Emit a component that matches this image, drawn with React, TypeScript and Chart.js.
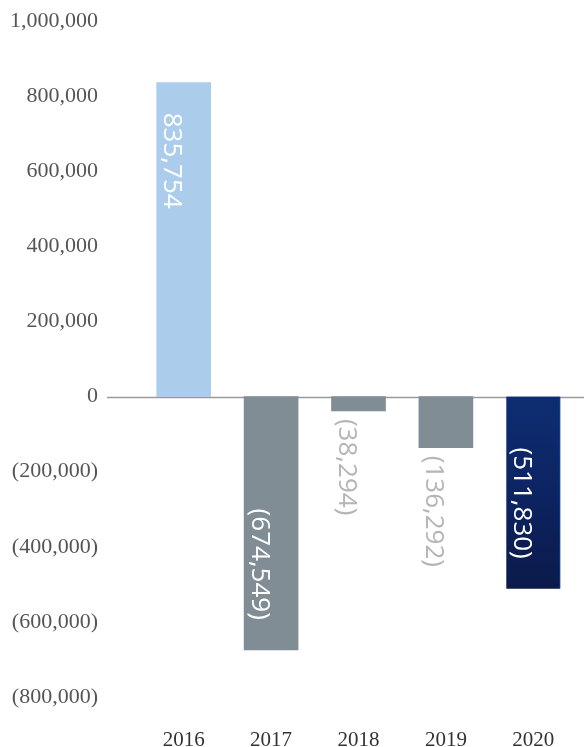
import React, { useEffect, useRef } from "react";
import { Chart, registerables } from "chart.js";

Chart.register(...registerables);

const categories = ["2016", "2017", "2018", "2019", "2020"];
const values = [835754, -674549, -38294, -136292, -511830];
const yMin = -800000;
const yMax = 1000000;
const yStep = 200000;

const fmt = (n: number) =>
  n < 0 ? `(${Math.abs(n).toLocaleString("en-US")})` : n.toLocaleString("en-US");

const zeroLinePlugin = {
  id: "zeroLine",
  beforeDatasetsDraw(chart: any) {
    const ctx = chart.ctx;
    const y0 = Math.round(chart.scales.y.getPixelForValue(0)) + 0.5;
    ctx.save();
    ctx.strokeStyle = "#9a9a9a";
    ctx.lineWidth = 1.5;
    ctx.beginPath();
    ctx.moveTo(107, y0);
    ctx.lineTo(chart.width, y0);
    ctx.stroke();
    ctx.restore();
  },
};

const labelPlugin = {
  id: "vLabels",
  afterDatasetsDraw(chart: any) {
    const ctx = chart.ctx;
    const meta = chart.getDatasetMeta(0);
    ctx.save();
    ctx.font = "26px 'Open Sans'";
    ctx.textBaseline = "middle";
    meta.data.forEach((bar: any, i: number) => {
      const v = values[i];
      const { x, y, base } = bar.getProps(["x", "y", "base"], true);
      const text = fmt(v);
      const tw = ctx.measureText(text).width;
      const len = Math.abs(base - y);
      const inside = len > tw + 60;
      const cx = x - 12;
      let py: number;
      let align: CanvasTextAlign;
      if (v >= 0) {
        py = y + 30;
        align = "left";
      } else if (inside) {
        py = y - 30;
        align = "right";
      } else {
        py = y + 8;
        align = "left";
      }
      ctx.save();
      ctx.translate(cx, py);
      ctx.rotate(Math.PI / 2);
      ctx.textAlign = align;
      ctx.fillStyle = inside ? "#ffffff" : "#b5b5b5";
      ctx.fillText(text, 0, 0);
      ctx.restore();
    });
    ctx.restore();
  },
};

export default function App() {
  const ref = useRef<HTMLCanvasElement | null>(null);

  useEffect(() => {
    document.body.style.margin = "0";
    if (!ref.current) return;
    const chart = new Chart(ref.current, {
      type: "bar",
      data: {
        labels: categories,
        datasets: [
          {
            data: values,
            barThickness: 54,
            borderWidth: (c: any) => (c.dataIndex === values.length - 1 ? { right: 1 } : 0),
            borderColor: "#1f56a8",
            backgroundColor: (c: any) => {
              const i = c.dataIndex;
              const v = values[i];
              if (i === values.length - 1) {
                const area = c.chart.chartArea;
                if (!area) return "#0c2461";
                const ys = c.chart.scales.y;
                const g = c.chart.ctx.createLinearGradient(0, ys.getPixelForValue(0), 0, ys.getPixelForValue(v));
                g.addColorStop(0, "#0e2d72");
                g.addColorStop(0.5, "#0c2462");
                g.addColorStop(1, "#0b1a4a");
                return g;
              }
              return v >= 0 ? "#abcdeb" : "#808d95";
            },
          },
        ],
      },
      options: {
        responsive: false,
        animation: false,
        devicePixelRatio: 1,
        layout: { padding: { top: 21, right: 7, left: 0, bottom: 0 } },
        plugins: { legend: { display: false }, tooltip: { enabled: false } },
        scales: {
          x: {
            grid: { display: false, drawTicks: false, tickLength: 0 },
            border: { display: false },
            ticks: {
              padding: 31,
              color: "#333",
              font: { family: "'Liberation Serif'", size: 21 },
            },
            afterFit: (s: any) => {
              s.height = 50;
              s.paddingLeft = 0;
              s.paddingRight = 0;
            },
          },
          y: {
            min: yMin,
            max: yMax,
            grid: { display: false, drawTicks: false, tickLength: 0 },
            border: { display: false },
            ticks: {
              stepSize: yStep,
              padding: 42,
              color: "#555",
              font: { family: "'Liberation Serif'", size: 22 },
              callback: (v: any) => fmt(Number(v)),
            },
            afterFit: (s: any) => {
              s.width = 140;
              s.paddingTop = 0;
              s.paddingBottom = 0;
            },
          },
        },
      },
      plugins: [zeroLinePlugin, labelPlugin],
    });
    return () => chart.destroy();
  }, []);

  return (
    <div style={{ width: 584, height: 747 }}>
      <canvas ref={ref} width={584} height={747} />
    </div>
  );
}
